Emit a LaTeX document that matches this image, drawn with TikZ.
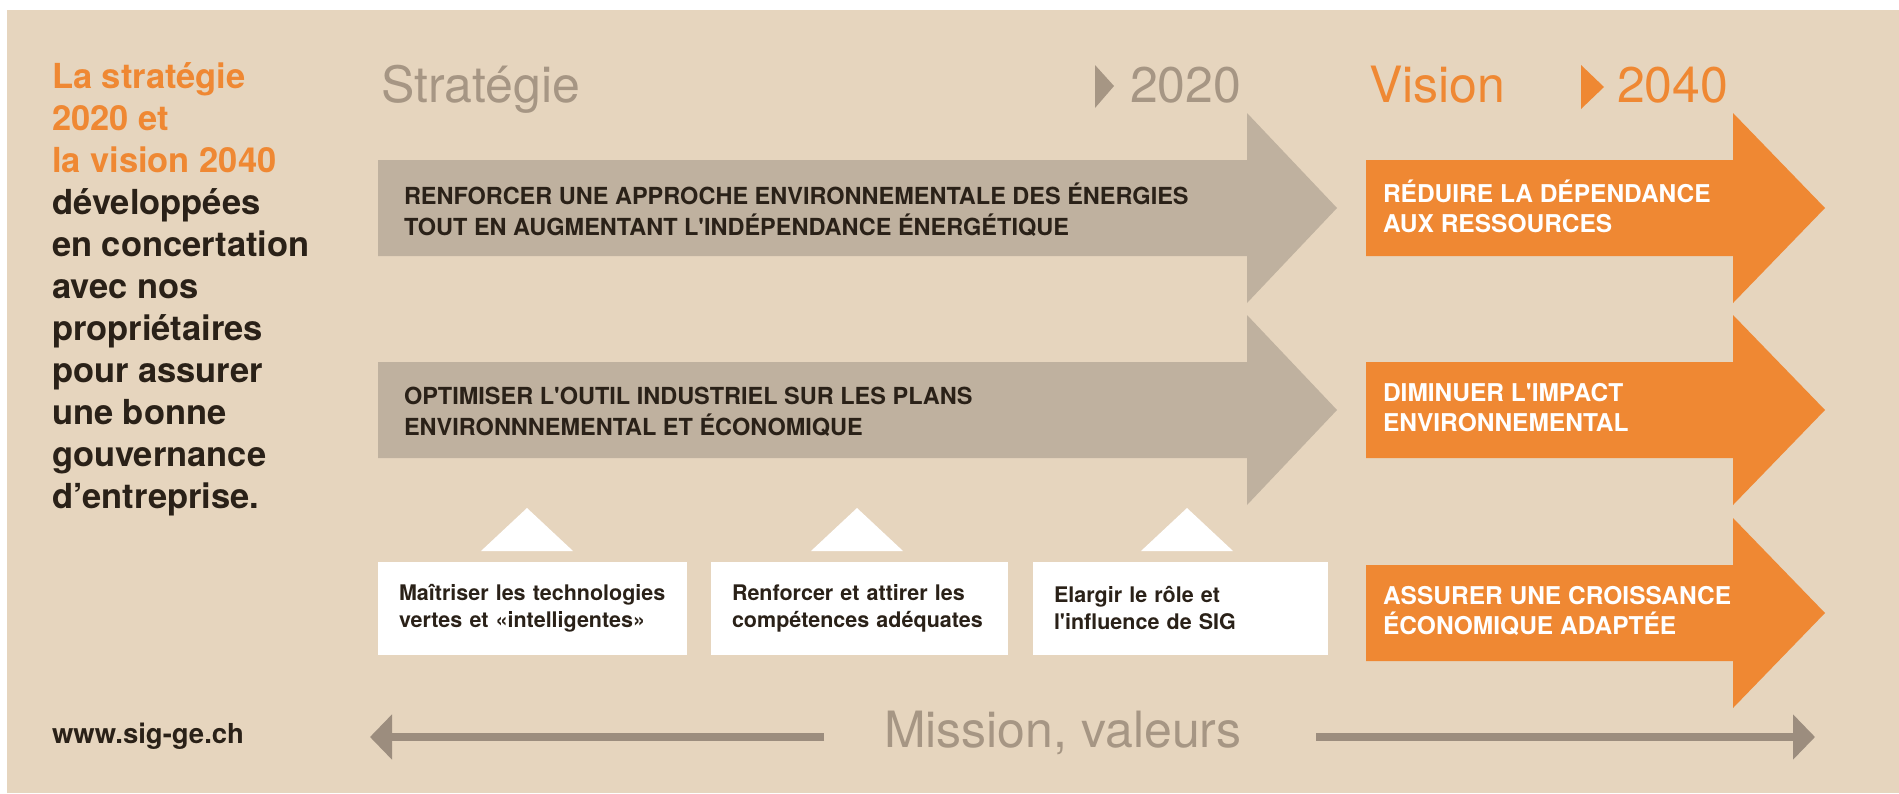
\documentclass[tikz,border=0pt]{standalone}
\usepackage{fontspec}
\setmainfont{TeX Gyre Heros}[Ligatures=TeXOff]
\usetikzlibrary{arrows.meta}

\definecolor{sigbg}{HTML}{E6D5BE}
\definecolor{sigarrow}{HTML}{BFB19F}
\definecolor{sigorange}{HTML}{EF8833}
\definecolor{sighead}{HTML}{A69684}
\definecolor{sigdark}{HTML}{2A2118}
\definecolor{sigline}{HTML}{9C8D7E}

\begin{document}
\begin{tikzpicture}[x=1pt,y=-1pt,
    every node/.style={inner sep=0pt, outer sep=0pt},
    title/.style={font=\fontsize{50}{60}\selectfont, anchor=base west},
    axistext/.style={font=\bfseries\fontsize{23.5}{31}\selectfont, text=sigdark, align=left, anchor=west},
    visiontext/.style={font=\bfseries\fontsize{24.5}{30}\selectfont, text=white, align=left, anchor=west},
    pillar/.style={fill=white, font=\bfseries\fontsize{21.5}{27}\selectfont, text=sigdark, align=left,
        inner xsep=21pt, minimum height=93pt, anchor=north west},
    missionline/.style={draw=sigline, line width=8pt, -{Triangle[length=22pt,width=44pt]}}]

    % page and panel
    \fill[white] (0,0) rectangle (1899,793);
    \fill[sigbg] (7,10) rectangle (1899,793);
    \useasboundingbox (0,0) rectangle (1899,793);

    % left column (base = last line)
    \node[anchor=base west, align=left, font=\bfseries\fontsize{34.5}{42}\selectfont, text=sigdark] (intro) at (52,508)
        {\textcolor{sigorange}{La stratégie}\\ \textcolor{sigorange}{2020 et}\\ \textcolor{sigorange}{la vision 2040}\\
         développées\\ en concertation\\ avec nos\\ propriétaires\\ pour assurer\\ une bonne\\ gouvernance\\ d’entreprise.};
    \node[anchor=base west, font=\bfseries\fontsize{27.5}{33}\selectfont, text=sigdark] (site) at (52,743) {www.sig-ge.ch};

    % headings
    \node[title, text=sighead] (strategie) at (381,102) {Stratégie};
    \fill[sighead] (1095,65) -- (1114,86) -- (1095,108) -- cycle;
    \node[title, text=sighead] (an2020) at (1130,102) {2020};
    \node[title, text=sigorange] (vision) at (1369,102) {Vision};
    \fill[sigorange] (1581,65) -- (1604,87) -- (1581,109) -- cycle;
    \node[title, text=sigorange] (an2040) at (1617,102) {2040};

    % strategy arrows
    \foreach \y in {208,410}
        \fill[sigarrow] (378,\y-48) -- (1247,\y-48) -- (1247,\y-95) -- (1337,\y)
            -- (1247,\y+95) -- (1247,\y+48) -- (378,\y+48) -- cycle;
    \node[axistext] (renforcer) at (404,210)
        {RENFORCER UNE APPROCHE ENVIRONNEMENTALE DES ÉNERGIES\\TOUT EN AUGMENTANT L'INDÉPENDANCE ÉNERGÉTIQUE};
    \node[axistext] (optimiser) at (404,412)
        {OPTIMISER L'OUTIL INDUSTRIEL SUR LES PLANS\\ENVIRONNNEMENTAL ET ÉCONOMIQUE};

    % vision arrows
    \foreach \y in {208,410,613}
        \fill[sigorange] (1366,\y-48) -- (1733,\y-48) -- (1733,\y-95) -- (1825,\y)
            -- (1733,\y+95) -- (1733,\y+48) -- (1366,\y+48) -- cycle;
    \node[visiontext] (reduire) at (1383,206) {RÉDUIRE LA DÉPENDANCE\\AUX RESSOURCES};
    \node[visiontext] (diminuer) at (1383,408) {DIMINUER L'IMPACT\\ENVIRONNEMENTAL};
    \node[visiontext] (assurer) at (1383,611) {ASSURER UNE CROISSANCE\\ÉCONOMIQUE ADAPTÉE};

    % pillars
    \foreach \x in {527,857,1187}
        \fill[white] (\x,508) -- (\x+46,551) -- (\x-46,551) -- cycle;
    \node[pillar, text width=267pt] (technologies) at (378,562) {Maîtriser les technologies\\vertes et «intelligentes»};
    \node[pillar, text width=255pt] (competences) at (711,562) {Renforcer et attirer les\\compétences adéquates};
    \node[pillar, text width=253pt] (role) at (1033,562) {Elargir le rôle et\\l'influence de SIG};

    % mission, valeurs
    \node[title, text=sighead] (mission) at (884,747) {Mission, valeurs};
    \coordinate (missionLs) at (824,737);
    \coordinate (missionL) at (370,737);
    \coordinate (missionRs) at (1316,737);
    \coordinate (missionR) at (1815,737);
    \draw[missionline] (missionLs) -- (missionL);
    \draw[missionline] (missionRs) -- (missionR);
\end{tikzpicture}
\end{document}
